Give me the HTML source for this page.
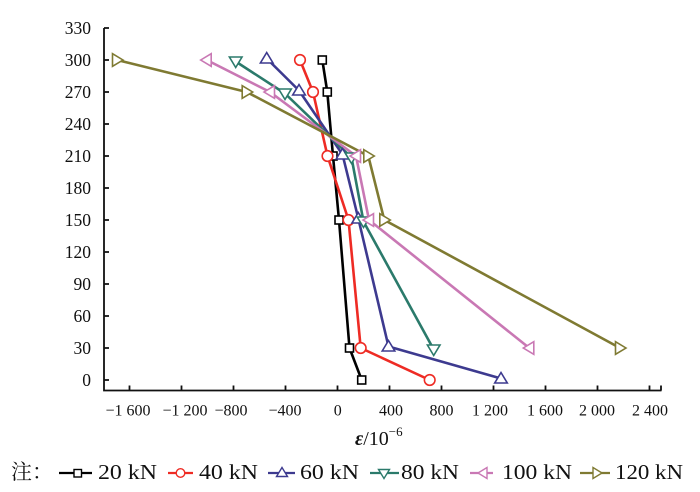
<!DOCTYPE html>
<html><head><meta charset="utf-8"><style>
html,body{margin:0;padding:0;background:#fff;}
svg{display:block;}
text{font-family:"Liberation Serif","Noto Serif CJK SC",serif;fill:#111;}
</style></head><body>
<svg width="700" height="492" viewBox="0 0 700 492" xmlns="http://www.w3.org/2000/svg">
<defs>
<g id="sq"><rect x="-4" y="-4" width="8" height="8" fill="#fff" stroke="#000" stroke-width="1.6"/></g>
<g id="ci"><circle r="5.3" fill="#fff" stroke="#ee2b24" stroke-width="1.6"/></g>
<g id="tu"><polygon points="0,-6 6.3,4.5 -6.3,4.5" fill="#fff" stroke="#3d3a8f" stroke-width="1.6"/></g>
<g id="td"><polygon points="0,6 6.3,-4.5 -6.3,-4.5" fill="#fff" stroke="#2b7a6b" stroke-width="1.6"/></g>
<g id="tl"><polygon points="-6,0 4.5,-6.3 4.5,6.3" fill="#fff" stroke="#c978b4" stroke-width="1.6"/></g>
<g id="tr"><polygon points="6,0 -4.5,-6.3 -4.5,6.3" fill="#fff" stroke="#7f7a32" stroke-width="1.6"/></g>
</defs>

<!-- axes -->
<g stroke="#111" stroke-width="1.8" fill="none">
<polyline points="104,28 104,390.5 661.5,390.5"/>
<!-- y ticks -->
<path d="M104,28h5M104,60h5M104,92h5M104,124h5M104,156h5M104,188h5M104,220h5M104,252h5M104,284h5M104,316h5M104,348h5M104,380h5"/>
<!-- x ticks -->
<path d="M129.5,390.5v-5M181.5,390.5v-5M233.5,390.5v-5M285.5,390.5v-5M337.5,390.5v-5M389.5,390.5v-5M441.5,390.5v-5M493.5,390.5v-5M545.5,390.5v-5M597.5,390.5v-5M649.5,390.5v-5M661,390.5v-5"/>
</g>

<!-- y labels -->
<g font-size="17.5" text-anchor="end">
<text x="91" y="34">330</text>
<text x="91" y="66">300</text>
<text x="91" y="98">270</text>
<text x="91" y="130">240</text>
<text x="91" y="162">210</text>
<text x="91" y="194">180</text>
<text x="91" y="226">150</text>
<text x="91" y="258">120</text>
<text x="91" y="290">90</text>
<text x="91" y="322">60</text>
<text x="91" y="354">30</text>
<text x="91" y="386">0</text>
</g>

<!-- x labels -->
<g font-size="16" text-anchor="middle">
<text x="128" y="415.5">−1 600</text>
<text x="185" y="415.5">−1 200</text>
<text x="231" y="415.5">−800</text>
<text x="285" y="415.5">−400</text>
<text x="337.7" y="415.5">0</text>
<text x="391" y="415.5">400</text>
<text x="441.5" y="415.5">800</text>
<text x="490" y="415.5">1 200</text>
<text x="545" y="415.5">1 600</text>
<text x="597" y="415.5">2 000</text>
<text x="650" y="415.5">2 400</text>
</g>

<!-- axis title -->
<text x="355" y="445" font-size="20"><tspan font-style="italic" font-weight="bold">ε</tspan>/10<tspan font-size="13" dy="-9">−6</tspan></text>

<!-- series lines -->
<g fill="none" stroke-width="2.6" stroke-linejoin="round">
<polyline stroke="#000" points="322.3,60 327.3,92 333,156 339,220 349.5,348 361.7,380"/>
<polyline stroke="#ee2b24" points="300,60 313,92 327.5,156 348.5,220 360.7,348 429.7,380"/>
<polyline stroke="#3d3a8f" points="266.7,58.5 299,90.5 342.5,154.5 358.3,218.5 388.5,346.5 501,378.5"/>
<polyline stroke="#2b7a6b" points="235.7,61.5 285,93.5 351.5,157.5 363.5,221.5 433.7,349.5"/>
<polyline stroke="#c978b4" points="206.7,60 270,92 356,156 369,220 529.3,348"/>
<polyline stroke="#7f7a32" points="117,60 246.7,92 368.3,156 384.3,220 620,348"/>
</g>

<!-- markers -->
<use href="#sq" x="322.3" y="60"/><use href="#sq" x="327.3" y="92"/><use href="#sq" x="333" y="156"/><use href="#sq" x="339" y="220"/><use href="#sq" x="349.5" y="348"/><use href="#sq" x="361.7" y="380"/>
<use href="#ci" x="300" y="60"/><use href="#ci" x="313" y="92"/><use href="#ci" x="327.5" y="156"/><use href="#ci" x="348.5" y="220"/><use href="#ci" x="360.7" y="348"/><use href="#ci" x="429.7" y="380"/>
<use href="#tu" x="266.7" y="58.5"/><use href="#tu" x="299" y="90.5"/><use href="#tu" x="342.5" y="154.5"/><use href="#tu" x="358.3" y="218.5"/><use href="#tu" x="388.5" y="346.5"/><use href="#tu" x="501" y="378.5"/>
<use href="#td" x="235.7" y="61.5"/><use href="#td" x="285" y="93.5"/><use href="#td" x="351.5" y="157.5"/><use href="#td" x="363.5" y="221.5"/><use href="#td" x="433.7" y="349.5"/>
<use href="#tl" x="206.7" y="60"/><use href="#tl" x="270" y="92"/><use href="#tl" x="356" y="156"/><use href="#tl" x="369" y="220"/><use href="#tl" x="529.3" y="348"/>
<use href="#tr" x="117" y="60"/><use href="#tr" x="246.7" y="92"/><use href="#tr" x="368.3" y="156"/><use href="#tr" x="384.3" y="220"/><use href="#tr" x="620" y="348"/>

<!-- legend -->
<text x="11" y="479" font-size="21" style="font-family:'Noto Serif CJK SC','Noto Sans CJK SC',serif">注：</text>
<g stroke-width="2.2" fill="none">
<line x1="59" y1="473" x2="92" y2="473" stroke="#000"/>
<line x1="168" y1="473" x2="193" y2="473" stroke="#ee2b24"/>
<line x1="268" y1="473" x2="295" y2="473" stroke="#3d3a8f"/>
<line x1="370" y1="473" x2="399" y2="473" stroke="#2b7a6b"/>
<line x1="470" y1="473" x2="493" y2="473" stroke="#c978b4"/>
<line x1="580" y1="473" x2="610" y2="473" stroke="#7f7a32"/>
</g>
<rect x="74" y="469.5" width="7.5" height="7.5" fill="#fff" stroke="#000" stroke-width="1.4"/>
<circle cx="180.5" cy="473" r="4.3" fill="#fff" stroke="#ee2b24" stroke-width="1.4"/>
<polygon points="282,467.5 287.5,476.5 276.5,476.5" fill="#fff" stroke="#3d3a8f" stroke-width="1.4"/>
<polygon points="384,478.5 389.5,469.5 378.5,469.5" fill="#fff" stroke="#2b7a6b" stroke-width="1.4"/>
<polygon points="478,473 487,467.5 487,478.5" fill="#fff" stroke="#c978b4" stroke-width="1.4"/>
<polygon points="602,473 593,467.5 593,478.5" fill="#fff" stroke="#7f7a32" stroke-width="1.4"/>
<g font-size="21">
<text x="98" y="479" textLength="59" lengthAdjust="spacingAndGlyphs">20 kN</text>
<text x="199" y="479" textLength="59" lengthAdjust="spacingAndGlyphs">40 kN</text>
<text x="300" y="479" textLength="59" lengthAdjust="spacingAndGlyphs">60 kN</text>
<text x="401" y="479" textLength="58" lengthAdjust="spacingAndGlyphs">80 kN</text>
<text x="502" y="479" textLength="70" lengthAdjust="spacingAndGlyphs">100 kN</text>
<text x="615" y="479" textLength="68" lengthAdjust="spacingAndGlyphs">120 kN</text>
</g>
</svg>
</body></html>
